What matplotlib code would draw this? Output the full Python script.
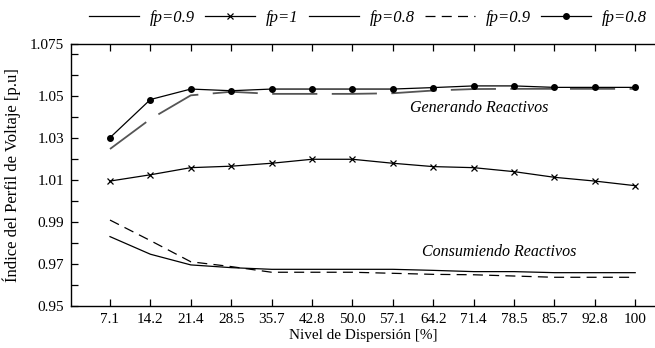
import matplotlib
matplotlib.use('Agg')
import matplotlib.pyplot as plt
from matplotlib.lines import Line2D
import numpy as np

plt.rcParams['font.family'] = ['Liberation Serif', 'DejaVu Serif']

# nivel de dispersion [%]
niveles = ['7.1', '14.2', '21.4', '28.5', '35.7', '42.8', '50.0', '57.1',
           '64.2', '71.4', '78.5', '85.7', '92.8', '100']

# consumiendo reactivos
cons_fp09 = [0.9831, 0.9747, 0.9696, 0.9683, 0.9675, 0.9675, 0.9675, 0.9675,
             0.9670, 0.9664, 0.9664, 0.9659, 0.9659, 0.9659]
cons_fp09b = [0.9910, 0.9812, 0.9711, 0.9688, 0.9661, 0.9661, 0.9661, 0.9656,
              0.9651, 0.9649, 0.9643, 0.9637, 0.9637, 0.9637]
# factor unitario
fp1 = [1.0096, 1.0126, 1.0160, 1.0167, 1.0181, 1.0200, 1.0200, 1.0181,
       1.0165, 1.0160, 1.0141, 1.0114, 1.0096, 1.0074]
# generando reactivos
gen_fp08 = [1.0249, 1.0392, 1.0505, 1.0522, 1.0512, 1.0512, 1.0512, 1.0515,
            1.0528, 1.0535, 1.0536, 1.0536, 1.0536, 1.0536]
gen_fp08_dot = [1.0303, 1.0485, 1.0535, 1.0527, 1.0535, 1.0535, 1.0535, 1.0535,
                1.0542, 1.0550, 1.0550, 1.0543, 1.0543, 1.0543]

yticks = [0.95, 0.96, 0.97, 0.98, 0.99, 1.00, 1.01, 1.02, 1.03, 1.04, 1.05,
          1.06, 1.07, 1.075]
ylabels = ['0.95', '', '0.97', '', '0.99', '', '1.01', '', '1.03', '', '1.05',
           '', '', '1.075']

x = np.arange(1, len(niveles) + 1)

fig = plt.figure(figsize=(6.55, 3.48), dpi=100)
ax = fig.add_axes([0.1084, 0.1207, 0.8916, 0.7529])

l1, = ax.plot(x, cons_fp09, color='black', lw=0.9, label='fp=0.9')
l2, = ax.plot(x, fp1, color='black', lw=0.9, marker='x', ms=5, mew=0.9,
              label='fp=1')
ax.plot(x, gen_fp08, color='#555555', lw=1.3, linestyle=(0, (25, 8)))
l4, = ax.plot(x, cons_fp09b, color='black', lw=0.9,
              linestyle=(0, (8, 5)), label='fp=0.9')
l5, = ax.plot(x, gen_fp08_dot, color='black', lw=0.9, marker='o', ms=4,
              label='fp=0.8')
# legend entry for the long dash series is drawn solid
l3 = Line2D([], [], color='black', lw=0.9, label='fp=0.8')

ax.set_xlim(0.035, 14.49)
ax.set_ylim(0.95, 1.075)
ax.set_xticks(x)
ax.set_xticklabels(niveles)
ax.set_yticks(yticks)
ax.set_yticklabels(ylabels)
ax.tick_params(direction='in', top=True, length=5, width=0.9, labelsize=11,
               pad=5)
ax.spines['right'].set_visible(False)
for s in ['left', 'bottom', 'top']:
    ax.spines[s].set_linewidth(1.0)

ax.set_xlabel('Nivel de Dispersión [%]', fontsize=11, labelpad=2)
ax.set_ylabel('Índice del Perfil de Voltaje [p.u]', fontsize=12, labelpad=6)

ax.text(10.13, 1.0445, 'Generando Reactivos', fontsize=11.5, style='italic',
        ha='center', va='center')
ax.text(10.63, 0.9758, 'Consumiendo Reactivos', fontsize=11.5, style='italic',
        ha='center', va='center')

fig.legend(handles=[l1, l2, l3, l4, l5], loc='center',
           bbox_to_anchor=(0.562, 0.948), ncol=5, frameon=False,
           prop={'style': 'italic', 'size': 12}, handlelength=3.0,
           handletextpad=0.65, columnspacing=0.6)

fig.savefig('out.png', dpi=100)
